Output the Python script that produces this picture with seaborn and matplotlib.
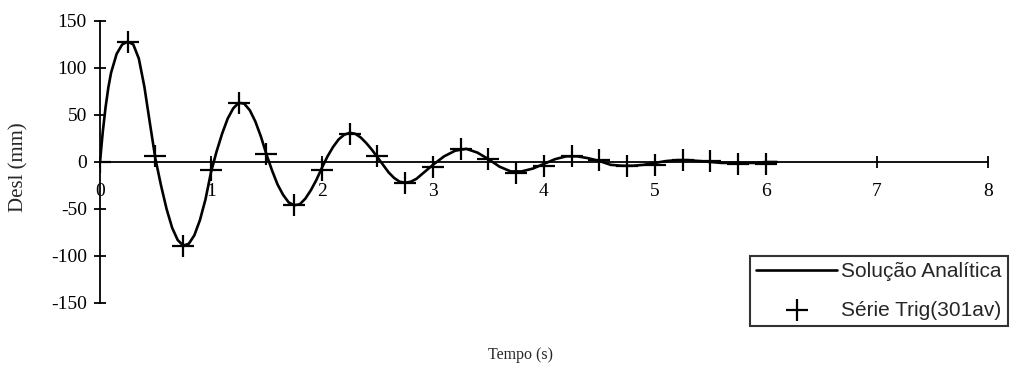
import matplotlib
matplotlib.use("Agg")
import matplotlib.pyplot as plt
import seaborn as sns
import pandas as pd

# Analytic solution
t_line = [0.00, 0.025, 0.05, 0.075, 0.10, 0.15, 0.20, 0.25, 0.30, 0.35, 0.40, 0.45,
          0.50, 0.55, 0.60, 0.65, 0.70, 0.75, 0.80, 0.85, 0.90, 0.95,
          1.00, 1.05, 1.10, 1.15, 1.20, 1.25, 1.30, 1.35, 1.40, 1.45,
          1.50, 1.55, 1.60, 1.65, 1.70, 1.75, 1.80, 1.85, 1.90, 1.95,
          2.00, 2.05, 2.10, 2.15, 2.20, 2.25, 2.30, 2.35, 2.40, 2.45,
          2.50, 2.55, 2.60, 2.65, 2.70, 2.75, 2.80, 2.85, 2.90, 2.95,
          3.00, 3.10, 3.20, 3.30, 3.40, 3.50, 3.60, 3.70, 3.80, 3.90,
          4.00, 4.10, 4.20, 4.30, 4.40, 4.50, 4.60, 4.70, 4.80, 4.90,
          5.00, 5.10, 5.20, 5.30, 5.40, 5.50, 5.60, 5.70, 5.80, 5.90,
          6.00, 6.10]
y_line = [0, 32, 58, 79, 95, 115, 125, 128, 125, 110, 80, 41,
          3, -25, -50, -70, -83, -89, -87, -78, -62, -40,
          -11, 11, 30, 46, 57, 63, 62, 55, 43, 27,
          8, -9, -24, -35, -43, -46, -45, -39, -30, -19,
          -6, 6, 16, 24, 29, 31, 30, 26, 20, 13,
          5, -3, -11, -17, -21, -22, -21, -18, -13, -8,
          -3, 6, 12, 14, 10, 3, -5, -10, -10, -7,
          -2, 3, 6, 6, 4, 1, -3, -4, -4, -3,
          -1, 1, 2, 2, 1, 0, -1, -1, -1, -1,
          0, 0]

# Trigonometric series points
t_pts = [0.00, 0.25, 0.50, 0.75, 1.00, 1.25, 1.50, 1.75, 2.00, 2.25,
         2.50, 2.75, 3.00, 3.25, 3.50, 3.75, 4.00, 4.25, 4.50, 4.75,
         5.00, 5.25, 5.50, 5.75, 6.00]
y_pts = [0, 128, 6, -89, -8, 63, 8, -46, -8, 30,
         6, -22, -5, 14, 3, -12, -4, 6, 2, -4,
         -3, 2, 1, -2, -2]

x_ticks = [0, 1, 2, 3, 4, 5, 6, 7, 8]
y_ticks = [-150, -100, -50, 0, 50, 100, 150]
y_ticklabels = ["-150", "-100", "-50", "0", "50", "100", "150"]

sns.set_style("white")
plt.rcParams["font.family"] = ["Liberation Serif", "DejaVu Serif"]

fig = plt.figure(figsize=(10.11, 3.65), dpi=100)
ax = fig.add_axes([0.0989, 0.1699, 0.8783, 0.7726])

df_line = pd.DataFrame({"t": t_line, "y": y_line})
df_pts = pd.DataFrame({"t": t_pts, "y": y_pts})

sns.lineplot(data=df_line, x="t", y="y", ax=ax, color="black", lw=1.9,
             label="Solução Analítica", sort=False)
sns.scatterplot(data=df_pts, x="t", y="y", ax=ax, marker="+", s=230,
                color="black", linewidth=1.6, label="Série Trig(301av)")

ax.set_xlim(0, 8)
ax.set_ylim(-150, 150)
ax.set_xticks(x_ticks)
ax.set_yticks(y_ticks)
ax.set_yticklabels(y_ticklabels)

ax.spines["top"].set_visible(False)
ax.spines["right"].set_visible(False)
ax.spines["bottom"].set_position(("data", 0))
ax.spines["left"].set_position(("data", 0))
for s in ("bottom", "left"):
    ax.spines[s].set_color("black")
    ax.spines[s].set_linewidth(1.3)

ax.tick_params(axis="both", direction="inout", length=8, width=1.3,
               color="black", labelsize=14, labelcolor="black",
               bottom=True, left=True)
ax.tick_params(axis="x", pad=11)
ax.tick_params(axis="y", pad=5.5)

ax.set_xlabel("")
ax.set_ylabel("")
fig.text(0.515, 0.027, "Tempo (s)", ha="center", va="center", fontsize=11.5)
fig.text(0.019, 0.541, "Desl (mm)", ha="center", va="center", fontsize=15,
         rotation=90)

leg = ax.legend(loc="lower left", bbox_to_anchor=(0.742, 0.107),
                bbox_transform=fig.transFigure, frameon=True, fancybox=False,
                prop={"family": "Liberation Sans", "size": 15},
                handlelength=3.85, borderpad=0.3, labelspacing=0.95,
                handletextpad=0.2, borderaxespad=0)
leg.get_frame().set_edgecolor("black")
leg.get_frame().set_linewidth(1.5)

fig.savefig("out.png", dpi=100, facecolor="white")
